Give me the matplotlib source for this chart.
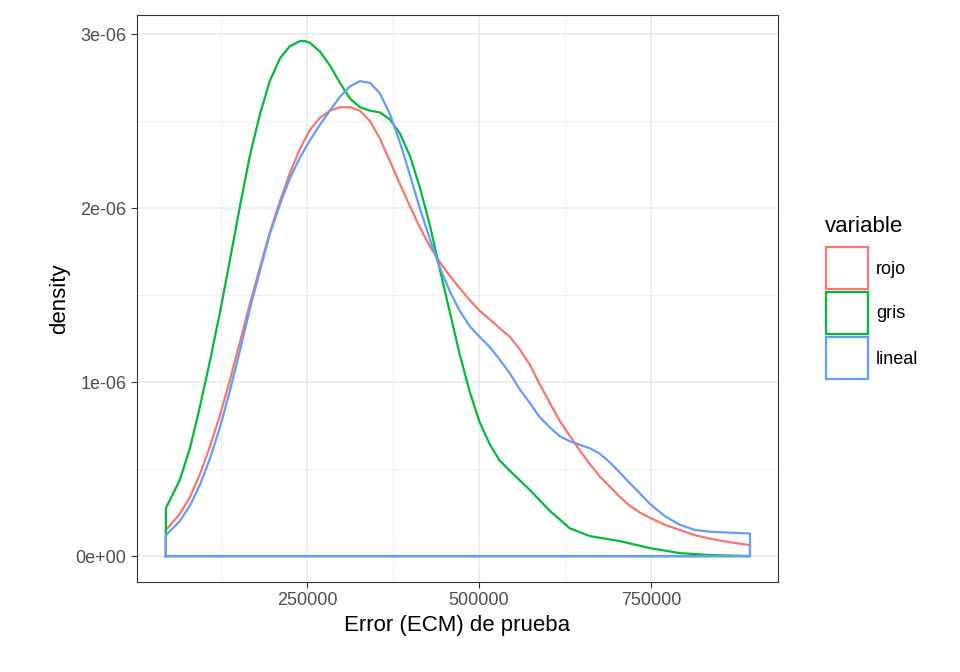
import matplotlib
matplotlib.use("Agg")
import matplotlib.pyplot as plt
from matplotlib.patches import Rectangle
import numpy as np

plt.rcParams["font.family"] = ["Liberation Sans", "DejaVu Sans"]

series = ["rojo", "gris", "lineal"]
colors = ["#F8766D", "#00BA38", "#619CFF"]

x_gris = [45000, 65000, 80000, 94500, 109000, 123600, 138000, 152600, 167000, 181700, 196000, 210700,
          225000, 239800, 247000, 254400, 269000, 283400, 298000, 312500, 327000, 341600, 356000,
          370600, 385000, 399700, 414000, 428800, 443000, 457800, 472000, 486900, 501000, 516000,
          530000, 545000, 574000, 603000, 632000, 661000, 704800, 748500, 792000, 835800, 893900]
y_gris = [0.275, 0.435, 0.62, 0.86, 1.12, 1.40, 1.70, 2.01, 2.30, 2.54, 2.73, 2.86, 2.93, 2.96, 2.96,
          2.95, 2.90, 2.82, 2.72, 2.63, 2.58, 2.56, 2.55, 2.51, 2.43, 2.30, 2.12, 1.90, 1.65, 1.40,
          1.16, 0.94, 0.77, 0.64, 0.55, 0.49, 0.38, 0.26, 0.16, 0.115, 0.086, 0.046, 0.017, 0.006, 0.0]

x_common = [45000, 65000, 80000, 94500, 109000, 123600, 138000, 152600, 167000, 181700, 196000,
            210700, 225000, 239800, 254400, 269000, 283400, 298000, 312500, 327000, 341600, 356000,
            370600, 385000, 399700, 414000, 428800, 443000, 457800, 472000, 486900, 501000, 516000,
            530000, 545000, 559000, 574000, 588000, 603000, 617000, 632000, 646000, 661000, 675000,
            690000, 704800, 719000, 734000, 748500, 770000, 792000, 814000, 835800, 864000, 893900]
y_rojo = [0.15, 0.24, 0.34, 0.47, 0.63, 0.81, 1.01, 1.23, 1.45, 1.66, 1.86, 2.04, 2.20, 2.34, 2.45,
          2.52, 2.56, 2.58, 2.58, 2.56, 2.50, 2.40, 2.27, 2.14, 2.01, 1.89, 1.78, 1.69, 1.61, 1.54,
          1.47, 1.41, 1.36, 1.31, 1.26, 1.19, 1.10, 0.99, 0.88, 0.78, 0.69, 0.61, 0.53, 0.46, 0.40,
          0.34, 0.29, 0.25, 0.22, 0.18, 0.15, 0.12, 0.10, 0.08, 0.063]
y_lineal = [0.12, 0.20, 0.29, 0.41, 0.56, 0.74, 0.95, 1.18, 1.42, 1.64, 1.85, 2.02, 2.17, 2.29, 2.39,
            2.48, 2.56, 2.64, 2.70, 2.73, 2.72, 2.66, 2.54, 2.38, 2.19, 2.00, 1.82, 1.66, 1.52, 1.41,
            1.32, 1.26, 1.20, 1.13, 1.05, 0.96, 0.88, 0.80, 0.74, 0.69, 0.66, 0.64, 0.62, 0.59, 0.54,
            0.48, 0.42, 0.36, 0.30, 0.23, 0.18, 0.15, 0.14, 0.135, 0.13]

data = {"rojo": (x_common, y_rojo), "gris": (x_gris, y_gris), "lineal": (x_common, y_lineal)}

fig = plt.figure(figsize=(9.6, 6.72), dpi=100)
ax = fig.add_axes([0.1427, 0.1339, 0.6677, 0.8438])

for name, col in zip(series, colors):
    xs, ys = data[name]
    xs = np.array(xs, float)
    ys = np.array(ys, float) * 1e-6
    px = np.concatenate([[xs[0]], xs, [xs[-1], xs[0]]])
    py = np.concatenate([[0], ys, [0, 0]])
    ax.plot(px, py, color=col, lw=1.6, solid_joinstyle="round")

ax.set_xlim(3000, 934600)
ax.set_ylim(-0.149e-6, 3.11e-6)
ax.set_xticks([250000, 500000, 750000])
ax.set_xticklabels(["250000", "500000", "750000"])
ax.set_xticks([125000, 375000, 625000], minor=True)
ax.set_yticks([0, 1e-6, 2e-6, 3e-6])
ax.set_yticklabels(["0e+00", "1e-06", "2e-06", "3e-06"])
ax.set_yticks([0.5e-6, 1.5e-6, 2.5e-6], minor=True)
ax.grid(True, which="major", color="#EBEBEB", lw=1.2)
ax.grid(True, which="minor", color="#EBEBEB", lw=0.6)
ax.set_axisbelow(True)
ax.tick_params(which="major", length=4, color="#333333", labelsize=13, labelcolor="#4D4D4D")
ax.tick_params(which="minor", length=0)
for s in ax.spines.values():
    s.set_color("#333333")
ax.set_xlabel("Error (ECM) de prueba", fontsize=16)
ax.set_ylabel("density", fontsize=16)

fig.text(825 / 960, 1 - 227 / 672, "variable", fontsize=16, va="center", ha="left")
for i, (name, col) in enumerate(zip(series, colors)):
    top = 247 + i * 45
    fig.patches.append(Rectangle((826 / 960, 1 - (top + 42) / 672), 42 / 960, 42 / 672,
                                 transform=fig.transFigure, facecolor="white", edgecolor=col, lw=1.6))
    fig.text(876 / 960, 1 - (top + 22) / 672, name, fontsize=13, va="center", ha="left")

fig.savefig("out.png", dpi=100)
